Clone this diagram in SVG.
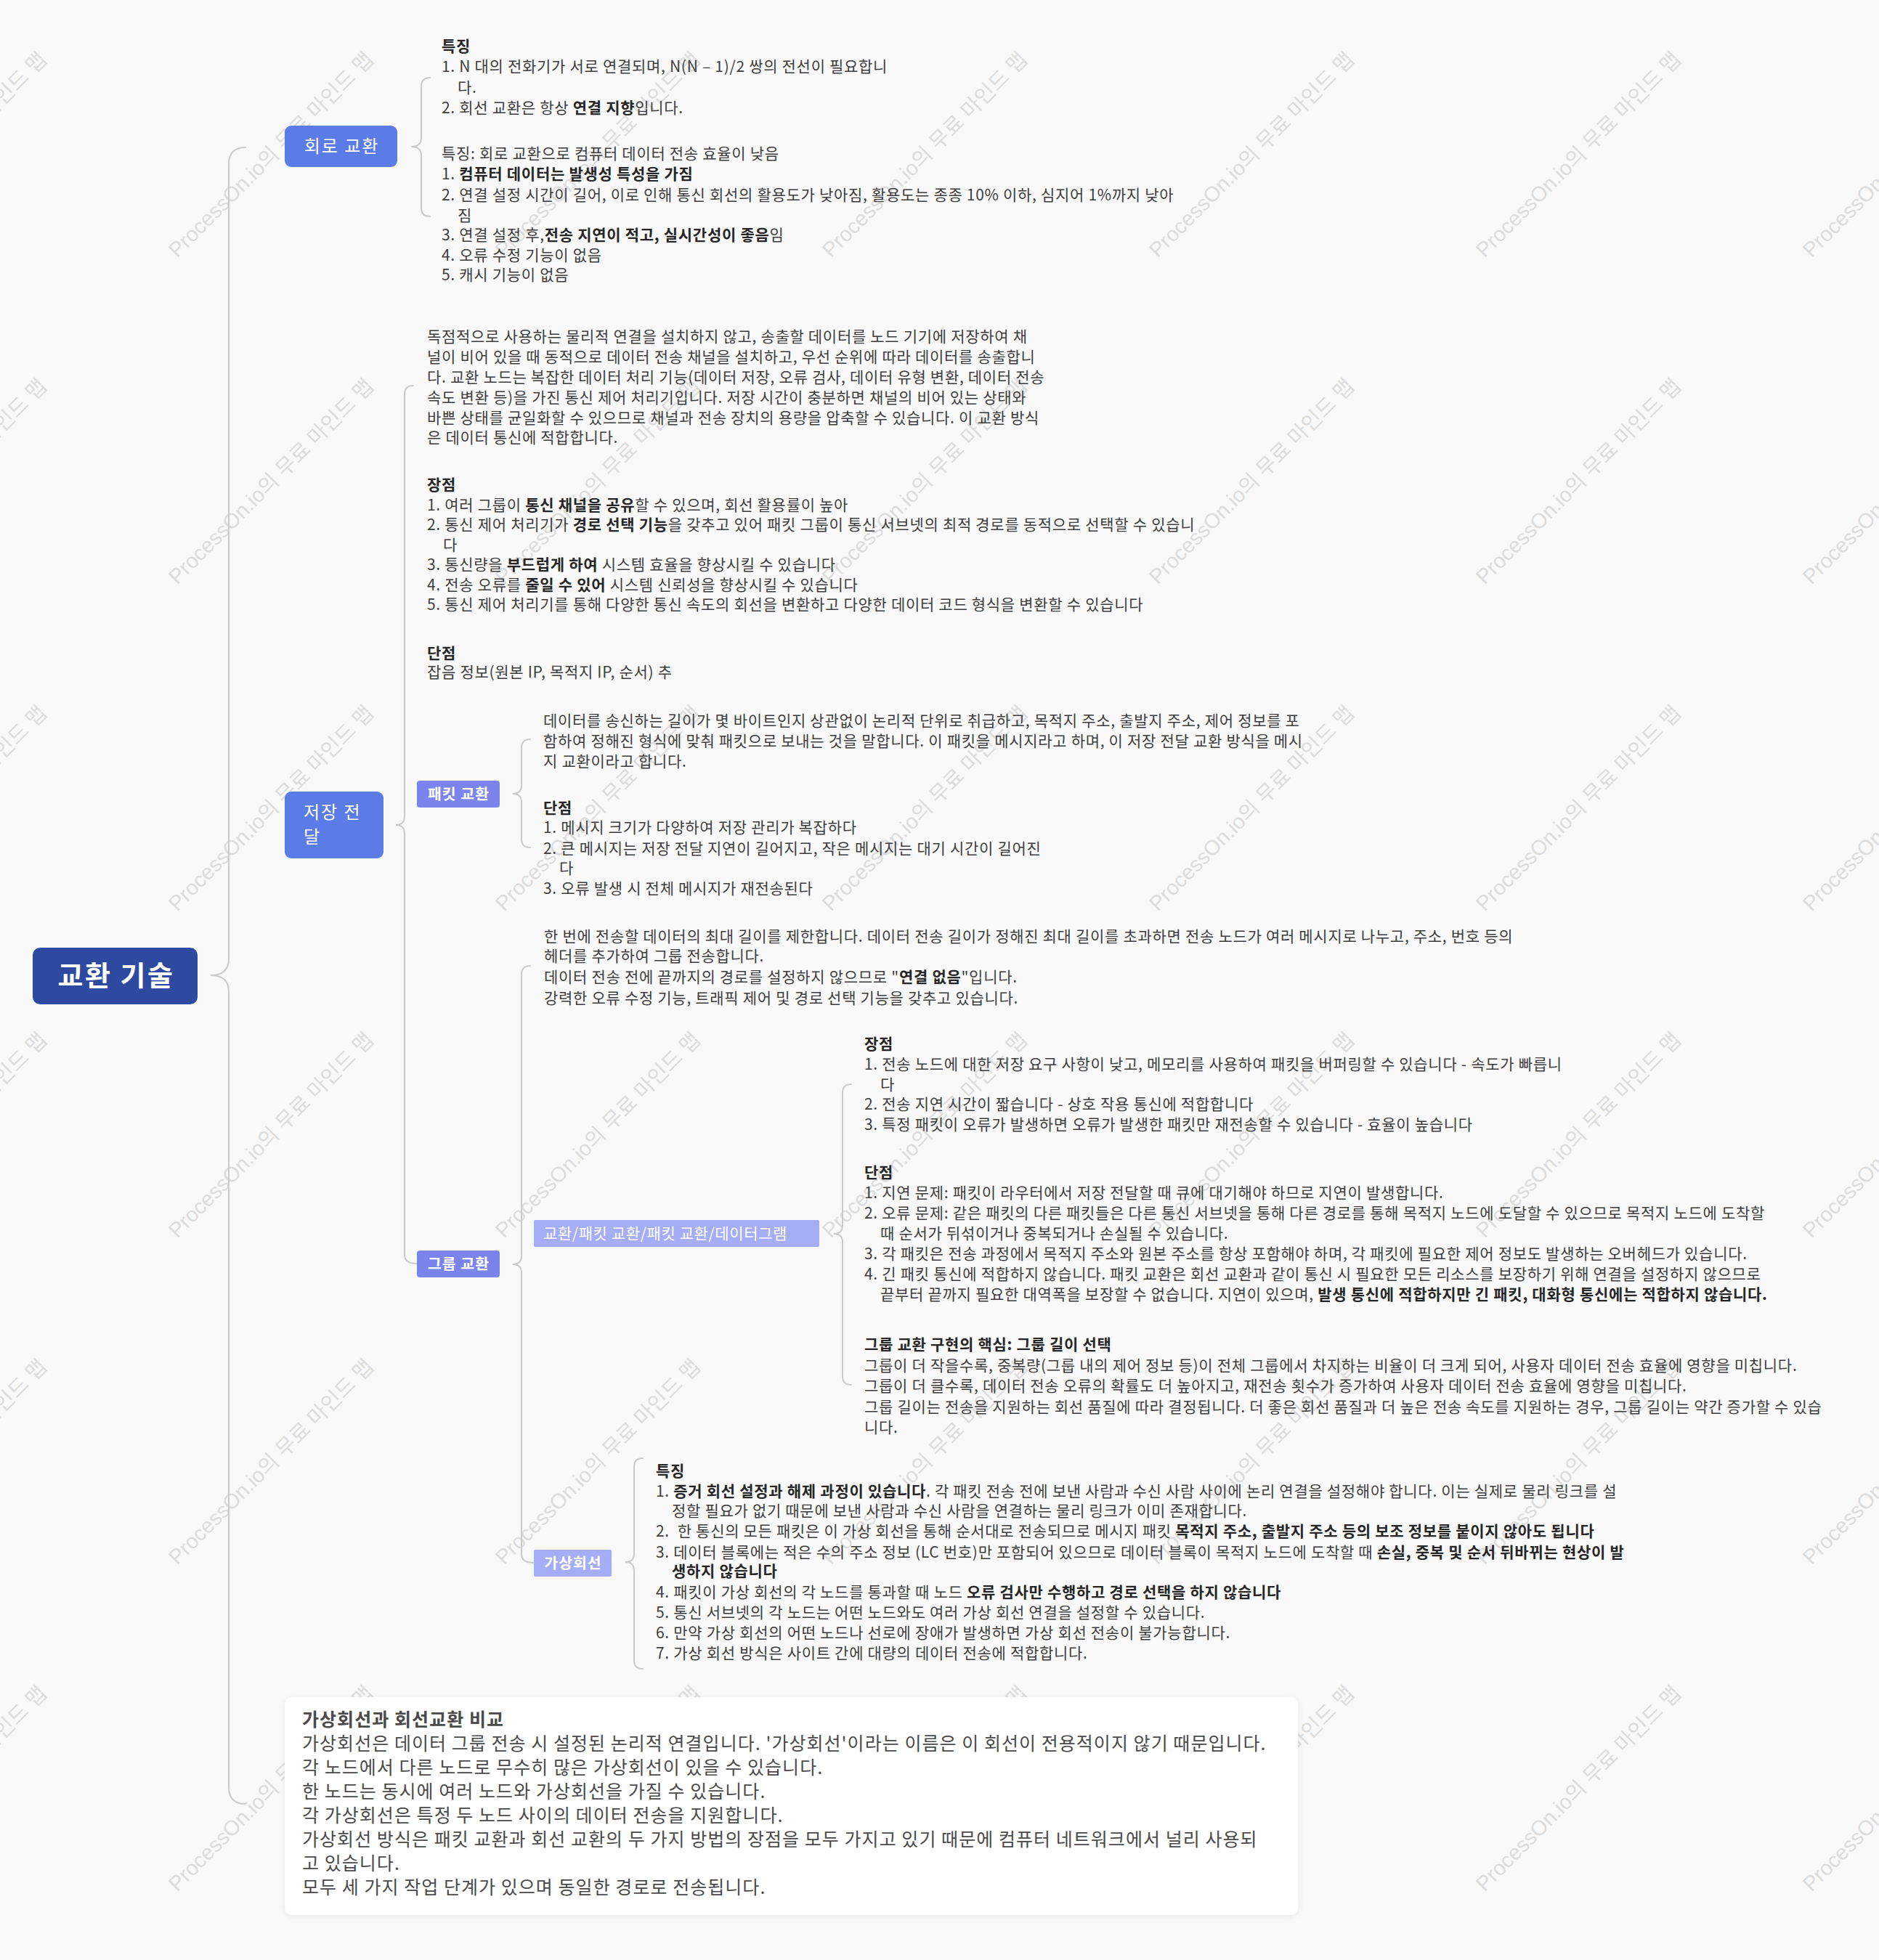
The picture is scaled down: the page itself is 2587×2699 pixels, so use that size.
<svg xmlns="http://www.w3.org/2000/svg" width="2587" height="2699" viewBox="0 0 2587 2699">
<defs>
<style>
.t{font-family:"Noto Sans CJK KR","Noto Sans",sans-serif;font-size:21px;letter-spacing:0.7px;fill:#3d3d3d;}
.b{font-weight:bold;fill:#262626;}
.big{font-size:25px;letter-spacing:1.05px;fill:#4a4a4a;}
.wm{font-family:"Liberation Sans","Noto Sans CJK KR",sans-serif;font-size:29px;fill:#dcdcdc;}
.lbl{font-family:"Noto Sans CJK KR","Noto Sans",sans-serif;fill:#ffffff;}
.br{fill:none;stroke:#cacaca;stroke-width:2;stroke-linecap:round;}
.pre{white-space:pre;}
</style>
<filter id="sh" x="-5%" y="-10%" width="110%" height="120%">
<feDropShadow dx="0" dy="2" stdDeviation="4" flood-color="#000" flood-opacity="0.07"/>
</filter>
</defs>
<rect x="0" y="0" width="2587" height="2699" fill="#f9f9f9"/>

<g id="watermarks">
<text class="wm" text-anchor="middle" transform="translate(-70,220) rotate(-45)">ProcessOn.io의 무료 마인드 맵</text>
<text class="wm" text-anchor="middle" transform="translate(380,220) rotate(-45)">ProcessOn.io의 무료 마인드 맵</text>
<text class="wm" text-anchor="middle" transform="translate(830,220) rotate(-45)">ProcessOn.io의 무료 마인드 맵</text>
<text class="wm" text-anchor="middle" transform="translate(1280,220) rotate(-45)">ProcessOn.io의 무료 마인드 맵</text>
<text class="wm" text-anchor="middle" transform="translate(1730,220) rotate(-45)">ProcessOn.io의 무료 마인드 맵</text>
<text class="wm" text-anchor="middle" transform="translate(2180,220) rotate(-45)">ProcessOn.io의 무료 마인드 맵</text>
<text class="wm" text-anchor="middle" transform="translate(2630,220) rotate(-45)">ProcessOn.io의 무료 마인드 맵</text>
<text class="wm" text-anchor="middle" transform="translate(-70,670) rotate(-45)">ProcessOn.io의 무료 마인드 맵</text>
<text class="wm" text-anchor="middle" transform="translate(380,670) rotate(-45)">ProcessOn.io의 무료 마인드 맵</text>
<text class="wm" text-anchor="middle" transform="translate(830,670) rotate(-45)">ProcessOn.io의 무료 마인드 맵</text>
<text class="wm" text-anchor="middle" transform="translate(1280,670) rotate(-45)">ProcessOn.io의 무료 마인드 맵</text>
<text class="wm" text-anchor="middle" transform="translate(1730,670) rotate(-45)">ProcessOn.io의 무료 마인드 맵</text>
<text class="wm" text-anchor="middle" transform="translate(2180,670) rotate(-45)">ProcessOn.io의 무료 마인드 맵</text>
<text class="wm" text-anchor="middle" transform="translate(2630,670) rotate(-45)">ProcessOn.io의 무료 마인드 맵</text>
<text class="wm" text-anchor="middle" transform="translate(-70,1120) rotate(-45)">ProcessOn.io의 무료 마인드 맵</text>
<text class="wm" text-anchor="middle" transform="translate(380,1120) rotate(-45)">ProcessOn.io의 무료 마인드 맵</text>
<text class="wm" text-anchor="middle" transform="translate(830,1120) rotate(-45)">ProcessOn.io의 무료 마인드 맵</text>
<text class="wm" text-anchor="middle" transform="translate(1280,1120) rotate(-45)">ProcessOn.io의 무료 마인드 맵</text>
<text class="wm" text-anchor="middle" transform="translate(1730,1120) rotate(-45)">ProcessOn.io의 무료 마인드 맵</text>
<text class="wm" text-anchor="middle" transform="translate(2180,1120) rotate(-45)">ProcessOn.io의 무료 마인드 맵</text>
<text class="wm" text-anchor="middle" transform="translate(2630,1120) rotate(-45)">ProcessOn.io의 무료 마인드 맵</text>
<text class="wm" text-anchor="middle" transform="translate(-70,1570) rotate(-45)">ProcessOn.io의 무료 마인드 맵</text>
<text class="wm" text-anchor="middle" transform="translate(380,1570) rotate(-45)">ProcessOn.io의 무료 마인드 맵</text>
<text class="wm" text-anchor="middle" transform="translate(830,1570) rotate(-45)">ProcessOn.io의 무료 마인드 맵</text>
<text class="wm" text-anchor="middle" transform="translate(1280,1570) rotate(-45)">ProcessOn.io의 무료 마인드 맵</text>
<text class="wm" text-anchor="middle" transform="translate(1730,1570) rotate(-45)">ProcessOn.io의 무료 마인드 맵</text>
<text class="wm" text-anchor="middle" transform="translate(2180,1570) rotate(-45)">ProcessOn.io의 무료 마인드 맵</text>
<text class="wm" text-anchor="middle" transform="translate(2630,1570) rotate(-45)">ProcessOn.io의 무료 마인드 맵</text>
<text class="wm" text-anchor="middle" transform="translate(-70,2020) rotate(-45)">ProcessOn.io의 무료 마인드 맵</text>
<text class="wm" text-anchor="middle" transform="translate(380,2020) rotate(-45)">ProcessOn.io의 무료 마인드 맵</text>
<text class="wm" text-anchor="middle" transform="translate(830,2020) rotate(-45)">ProcessOn.io의 무료 마인드 맵</text>
<text class="wm" text-anchor="middle" transform="translate(1280,2020) rotate(-45)">ProcessOn.io의 무료 마인드 맵</text>
<text class="wm" text-anchor="middle" transform="translate(1730,2020) rotate(-45)">ProcessOn.io의 무료 마인드 맵</text>
<text class="wm" text-anchor="middle" transform="translate(2180,2020) rotate(-45)">ProcessOn.io의 무료 마인드 맵</text>
<text class="wm" text-anchor="middle" transform="translate(2630,2020) rotate(-45)">ProcessOn.io의 무료 마인드 맵</text>
<text class="wm" text-anchor="middle" transform="translate(-70,2470) rotate(-45)">ProcessOn.io의 무료 마인드 맵</text>
<text class="wm" text-anchor="middle" transform="translate(380,2470) rotate(-45)">ProcessOn.io의 무료 마인드 맵</text>
<text class="wm" text-anchor="middle" transform="translate(830,2470) rotate(-45)">ProcessOn.io의 무료 마인드 맵</text>
<text class="wm" text-anchor="middle" transform="translate(1280,2470) rotate(-45)">ProcessOn.io의 무료 마인드 맵</text>
<text class="wm" text-anchor="middle" transform="translate(1730,2470) rotate(-45)">ProcessOn.io의 무료 마인드 맵</text>
<text class="wm" text-anchor="middle" transform="translate(2180,2470) rotate(-45)">ProcessOn.io의 무료 마인드 맵</text>
<text class="wm" text-anchor="middle" transform="translate(2630,2470) rotate(-45)">ProcessOn.io의 무료 마인드 맵</text>
</g>

<g id="connectors">
<path class="br" stroke-width="3" d="M338 203 Q315 203 315 226 L315 1320 Q315 1343 290 1343 Q315 1343 315 1366 L315 2461 Q315 2484 338 2484"/>
<path class="br" d="M592 107 Q580 107 580 119 L580 190 Q580 202 566 202 Q580 202 580 214 L580 286 Q580 298 592 298"/>
<path class="br" d="M569 531 Q557 531 557 543 L557 1124 Q557 1136 545 1136 Q557 1136 557 1148 L557 1728 Q557 1740 574 1740"/>
<path class="br" d="M730 1018 Q718 1018 718 1030 L718 1081 Q718 1093 706 1093 Q718 1093 718 1105 L718 1155 Q718 1167 730 1167"/>
<path class="br" d="M730 1330 Q718 1330 718 1342 L718 1729 Q718 1741 706 1741 Q718 1741 718 1753 L718 2140 Q718 2152 735 2152"/>
<path class="br" d="M1172 1493 Q1160 1493 1160 1505 L1160 1687 Q1160 1699 1148 1699 Q1160 1699 1160 1711 L1160 1895 Q1160 1907 1172 1907"/>
<path class="br" d="M885 2008 Q873 2008 873 2020 L873 2139 Q873 2151 861 2151 Q873 2151 873 2163 L873 2286 Q873 2298 885 2298"/>
</g>

<g id="root">
<rect x="45" y="1305" width="227" height="78" rx="10" fill="#2E49A0"/>
<text class="lbl" x="160" y="1357" text-anchor="middle" font-size="38" font-weight="bold" letter-spacing="2.5">교환 기술</text>
</g>

<g id="n-circuit">
<rect x="392" y="173" width="155" height="57" rx="9" fill="#5B7BE6"/>
<text class="lbl" x="470.5" y="210" text-anchor="middle" font-size="24" letter-spacing="2">회로 교환</text>
</g>

<g id="n-circuit-text">
<text class="t b" x="608" y="71">특징</text>
<text class="t" x="608" y="99">1. N 대의 전화기가 서로 연결되며, N(N – 1)/2 쌍의 전선이 필요합니</text>
<text class="t" x="630" y="128">다.</text>
<text class="t" x="608" y="156">2. 회선 교환은 항상 <tspan class="b">연결 지향</tspan>입니다.</text>
<text class="t" x="608" y="219">특징: 회로 교환으로 컴퓨터 데이터 전송 효율이 낮음</text>
<text class="t" x="608" y="247">1. <tspan class="b">컴퓨터 데이터는 발생성 특성을 가짐</tspan></text>
<text class="t" x="608" y="276">2. 연결 설정 시간이 길어, 이로 인해 통신 회선의 활용도가 낮아짐, 활용도는 종종 10% 이하, 심지어 1%까지 낮아</text>
<text class="t" x="630" y="304">짐</text>
<text class="t" x="608" y="331">3. 연결 설정 후,<tspan class="b">전송 지연이 적고, 실시간성이 좋음</tspan>임</text>
<text class="t" x="608" y="359">4. 오류 수정 기능이 없음</text>
<text class="t" x="608" y="386">5. 캐시 기능이 없음</text>
</g>

<g id="n-store">
<rect x="392" y="1090" width="136" height="92" rx="9" fill="#5B7BE6"/>
<text class="lbl" x="418" y="1127" font-size="24" letter-spacing="2">저장 전</text>
<text class="lbl" x="418" y="1161" font-size="24" letter-spacing="2">달</text>
</g>

<g id="n-store-text">
<text class="t" x="588" y="471">독점적으로 사용하는 물리적 연결을 설치하지 않고, 송출할 데이터를 노드 기기에 저장하여 채</text>
<text class="t" x="588" y="499">널이 비어 있을 때 동적으로 데이터 전송 채널을 설치하고, 우선 순위에 따라 데이터를 송출합니</text>
<text class="t" x="588" y="527">다. 교환 노드는 복잡한 데이터 처리 기능(데이터 저장, 오류 검사, 데이터 유형 변환, 데이터 전송</text>
<text class="t" x="588" y="555">속도 변환 등)을 가진 통신 제어 처리기입니다. 저장 시간이 충분하면 채널의 비어 있는 상태와</text>
<text class="t" x="588" y="583">바쁜 상태를 균일화할 수 있으므로 채널과 전송 장치의 용량을 압축할 수 있습니다. 이 교환 방식</text>
<text class="t" x="588" y="610">은 데이터 통신에 적합합니다.</text>
<text class="t b" x="588" y="675">장점</text>
<text class="t" x="588" y="703">1. 여러 그룹이 <tspan class="b">통신 채널을 공유</tspan>할 수 있으며, 회선 활용률이 높아</text>
<text class="t" x="588" y="730">2. 통신 제어 처리기가 <tspan class="b">경로 선택 기능</tspan>을 갖추고 있어 패킷 그룹이 통신 서브넷의 최적 경로를 동적으로 선택할 수 있습니</text>
<text class="t" x="610" y="758">다</text>
<text class="t" x="588" y="785">3. 통신량을 <tspan class="b">부드럽게 하여</tspan> 시스템 효율을 향상시킬 수 있습니다</text>
<text class="t" x="588" y="813">4. 전송 오류를 <tspan class="b">줄일 수 있어</tspan> 시스템 신뢰성을 향상시킬 수 있습니다</text>
<text class="t" x="588" y="840">5. 통신 제어 처리기를 통해 다양한 통신 속도의 회선을 변환하고 다양한 데이터 코드 형식을 변환할 수 있습니다</text>
<text class="t b" x="588" y="907">단점</text>
<text class="t" x="588" y="933">잡음 정보(원본 IP, 목적지 IP, 순서) 추</text>
</g>

<g id="n-packet">
<rect x="574" y="1075" width="114" height="37" rx="4" fill="#7B84EC"/>
<text class="lbl" x="631.5" y="1101" text-anchor="middle" font-size="20.5" font-weight="bold" letter-spacing="1">패킷 교환</text>
</g>

<g id="n-packet-text">
<text class="t" x="748" y="1000">데이터를 송신하는 길이가 몇 바이트인지 상관없이 논리적 단위로 취급하고, 목적지 주소, 출발지 주소, 제어 정보를 포</text>
<text class="t" x="748" y="1028">함하여 정해진 형식에 맞춰 패킷으로 보내는 것을 말합니다. 이 패킷을 메시지라고 하며, 이 저장 전달 교환 방식을 메시</text>
<text class="t" x="748" y="1056">지 교환이라고 합니다.</text>
<text class="t b" x="748" y="1120">단점</text>
<text class="t" x="748" y="1147">1. 메시지 크기가 다양하여 저장 관리가 복잡하다</text>
<text class="t" x="748" y="1176">2. 큰 메시지는 저장 전달 지연이 길어지고, 작은 메시지는 대기 시간이 길어진</text>
<text class="t" x="770" y="1203">다</text>
<text class="t" x="748" y="1231">3. 오류 발생 시 전체 메시지가 재전송된다</text>
</g>

<g id="n-group">
<rect x="574" y="1722" width="114" height="37" rx="4" fill="#7B84EC"/>
<text class="lbl" x="631.5" y="1748" text-anchor="middle" font-size="20.5" font-weight="bold" letter-spacing="1">그룹 교환</text>
</g>

<g id="n-group-text">
<text class="t" x="749" y="1297">한 번에 전송할 데이터의 최대 길이를 제한합니다. 데이터 전송 길이가 정해진 최대 길이를 초과하면 전송 노드가 여러 메시지로 나누고, 주소, 번호 등의</text>
<text class="t" x="749" y="1324">헤더를 추가하여 그룹 전송합니다.</text>
<text class="t" x="749" y="1353">데이터 전송 전에 끝까지의 경로를 설정하지 않으므로 "<tspan class="b">연결 없음</tspan>"입니다.</text>
<text class="t" x="749" y="1382">강력한 오류 수정 기능, 트래픽 제어 및 경로 선택 기능을 갖추고 있습니다.</text>
</g>

<g id="n-datagram">
<rect x="735" y="1680" width="393" height="37" rx="2" fill="#A4ADF5"/>
<text class="lbl" x="748" y="1706" font-size="21" letter-spacing="0.6">교환/패킷 교환/패킷 교환/데이터그램</text>
</g>

<g id="n-datagram-text">
<text class="t b" x="1190" y="1445">장점</text>
<text class="t" x="1190" y="1473">1. 전송 노드에 대한 저장 요구 사항이 낮고, 메모리를 사용하여 패킷을 버퍼링할 수 있습니다 - 속도가 빠릅니</text>
<text class="t" x="1212" y="1501">다</text>
<text class="t" x="1190" y="1528">2. 전송 지연 시간이 짧습니다 - 상호 작용 통신에 적합합니다</text>
<text class="t" x="1190" y="1556">3. 특정 패킷이 오류가 발생하면 오류가 발생한 패킷만 재전송할 수 있습니다 - 효율이 높습니다</text>
<text class="t b" x="1190" y="1622">단점</text>
<text class="t" x="1190" y="1650">1. 지연 문제: 패킷이 라우터에서 저장 전달할 때 큐에 대기해야 하므로 지연이 발생합니다.</text>
<text class="t" x="1190" y="1678">2. 오류 문제: 같은 패킷의 다른 패킷들은 다른 통신 서브넷을 통해 다른 경로를 통해 목적지 노드에 도달할 수 있으므로 목적지 노드에 도착할</text>
<text class="t" x="1212" y="1706">때 순서가 뒤섞이거나 중복되거나 손실될 수 있습니다.</text>
<text class="t" x="1190" y="1734">3. 각 패킷은 전송 과정에서 목적지 주소와 원본 주소를 항상 포함해야 하며, 각 패킷에 필요한 제어 정보도 발생하는 오버헤드가 있습니다.</text>
<text class="t" x="1190" y="1762">4. 긴 패킷 통신에 적합하지 않습니다. 패킷 교환은 회선 교환과 같이 통신 시 필요한 모든 리소스를 보장하기 위해 연결을 설정하지 않으므로</text>
<text class="t" x="1212" y="1790">끝부터 끝까지 필요한 대역폭을 보장할 수 없습니다. 지연이 있으며, <tspan class="b">발생 통신에 적합하지만 긴 패킷, 대화형 통신에는 적합하지 않습니다.</tspan></text>
<text class="t b" x="1190" y="1859">그룹 교환 구현의 핵심: 그룹 길이 선택</text>
<text class="t" x="1190" y="1888">그룹이 더 작을수록, 중복량(그룹 내의 제어 정보 등)이 전체 그룹에서 차지하는 비율이 더 크게 되어, 사용자 데이터 전송 효율에 영향을 미칩니다.</text>
<text class="t" x="1190" y="1916">그룹이 더 클수록, 데이터 전송 오류의 확률도 더 높아지고, 재전송 횟수가 증가하여 사용자 데이터 전송 효율에 영향을 미칩니다.</text>
<text class="t" x="1190" y="1945">그룹 길이는 전송을 지원하는 회선 품질에 따라 결정됩니다. 더 좋은 회선 품질과 더 높은 전송 속도를 지원하는 경우, 그룹 길이는 약간 증가할 수 있습</text>
<text class="t" x="1190" y="1973">니다.</text>
</g>

<g id="n-vc">
<rect x="735" y="2134" width="107" height="37" rx="2" fill="#A4ADF5"/>
<text class="lbl" x="789" y="2160" text-anchor="middle" font-size="20.5" font-weight="bold" letter-spacing="1">가상회선</text>
</g>

<g id="n-vc-text">
<text class="t b" x="903" y="2033">특징</text>
<text class="t" x="903" y="2061">1. <tspan class="b">증거 회선 설정과 해제 과정이 있습니다</tspan>. 각 패킷 전송 전에 보낸 사람과 수신 사람 사이에 논리 연결을 설정해야 합니다. 이는 실제로 물리 링크를 설</text>
<text class="t" x="925" y="2088">정할 필요가 없기 때문에 보낸 사람과 수신 사람을 연결하는 물리 링크가 이미 존재합니다.</text>
<text class="t pre" x="903" y="2116">2.  한 통신의 모든 패킷은 이 가상 회선을 통해 순서대로 전송되므로 메시지 패킷 <tspan class="b">목적지 주소, 출발지 주소 등의 보조 정보를 붙이지 않아도 됩니다</tspan></text>
<text class="t" x="903" y="2145">3. 데이터 블록에는 적은 수의 주소 정보 (LC 번호)만 포함되어 있으므로 데이터 블록이 목적지 노드에 도착할 때 <tspan class="b">손실, 중복 및 순서 뒤바뀌는 현상이 발</tspan></text>
<text class="t b" x="925" y="2171">생하지 않습니다</text>
<text class="t" x="903" y="2200">4. 패킷이 가상 회선의 각 노드를 통과할 때 노드 <tspan class="b">오류 검사만 수행하고 경로 선택을 하지 않습니다</tspan></text>
<text class="t" x="903" y="2228">5. 통신 서브넷의 각 노드는 어떤 노드와도 여러 가상 회선 연결을 설정할 수 있습니다.</text>
<text class="t" x="903" y="2256">6. 만약 가상 회선의 어떤 노드나 선로에 장애가 발생하면 가상 회선 전송이 불가능합니다.</text>
<text class="t" x="903" y="2284">7. 가상 회선 방식은 사이트 간에 대량의 데이터 전송에 적합합니다.</text>
</g>

<g id="n-compare">
<rect x="392" y="2337" width="1395" height="300" rx="10" fill="#ffffff" filter="url(#sh)"/>
<text class="t big b" x="416" y="2377">가상회선과 회선교환 비교</text>
<text class="t big" x="416" y="2410">가상회선은 데이터 그룹 전송 시 설정된 논리적 연결입니다. '가상회선'이라는 이름은 이 회선이 전용적이지 않기 때문입니다.</text>
<text class="t big" x="416" y="2443">각 노드에서 다른 노드로 무수히 많은 가상회선이 있을 수 있습니다.</text>
<text class="t big" x="416" y="2476">한 노드는 동시에 여러 노드와 가상회선을 가질 수 있습니다.</text>
<text class="t big" x="416" y="2509">각 가상회선은 특정 두 노드 사이의 데이터 전송을 지원합니다.</text>
<text class="t big" x="416" y="2542">가상회선 방식은 패킷 교환과 회선 교환의 두 가지 방법의 장점을 모두 가지고 있기 때문에 컴퓨터 네트워크에서 널리 사용되</text>
<text class="t big" x="416" y="2575">고 있습니다.</text>
<text class="t big" x="416" y="2608">모두 세 가지 작업 단계가 있으며 동일한 경로로 전송됩니다.</text>
</g>
</svg>
